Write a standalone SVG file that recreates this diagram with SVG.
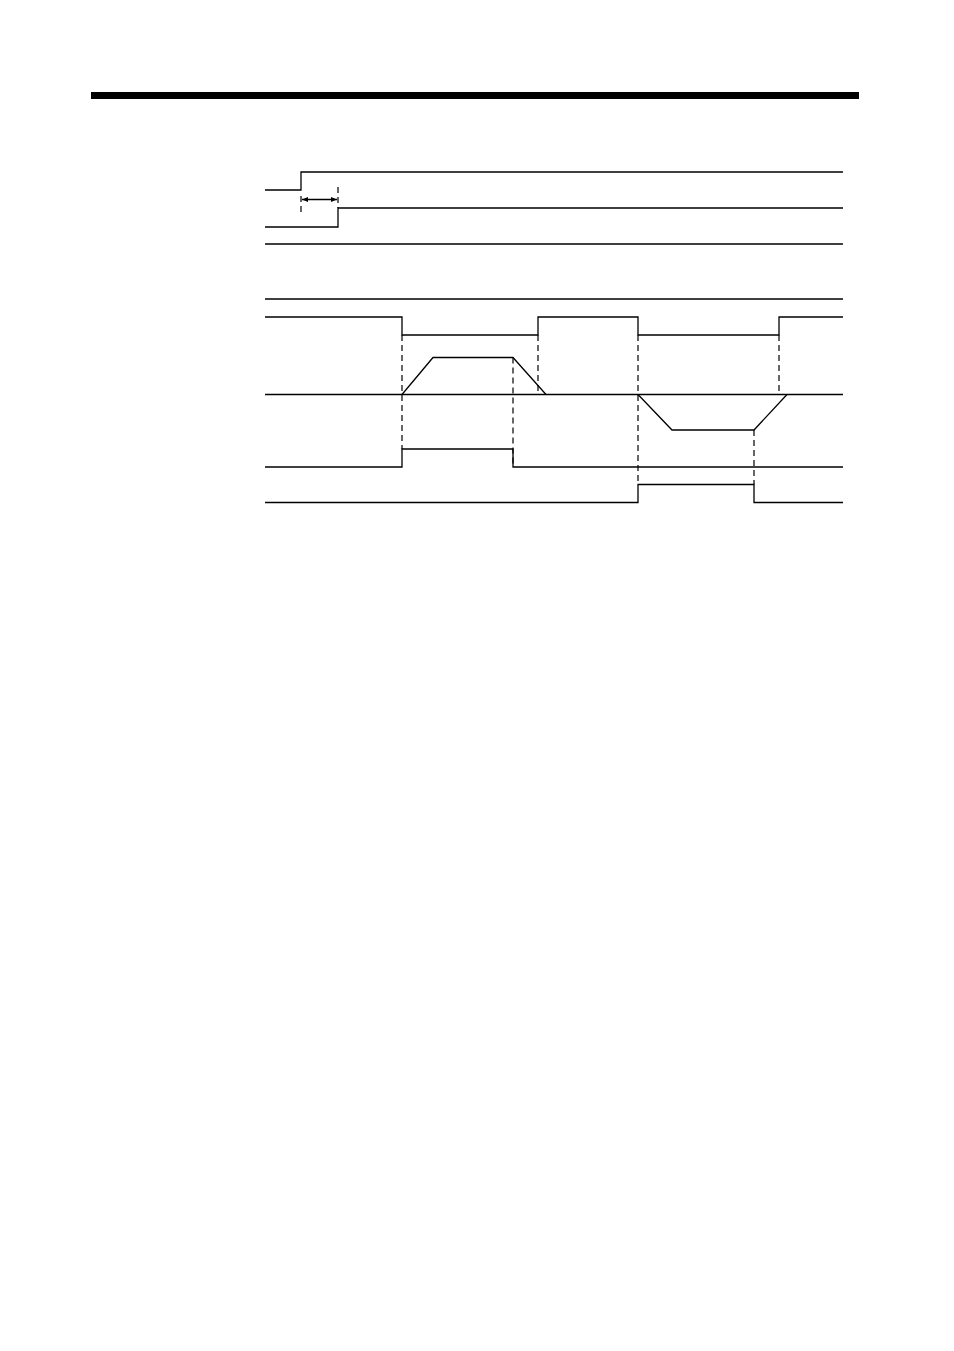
<svg xmlns="http://www.w3.org/2000/svg" width="954" height="1351" viewBox="0 0 954 1351">
<style>
.sig{fill:none;stroke:#000;stroke-width:1.3}
.dash{fill:none;stroke:#000;stroke-width:1.2;stroke-dasharray:6 4}
</style>
<defs>
<marker id="ah" viewBox="0 0 10 10" refX="10" refY="5" markerWidth="6" markerHeight="5" orient="auto-start-reverse" markerUnits="userSpaceOnUse" preserveAspectRatio="none">
<path d="M0,0 L10,5 L0,10 z" fill="#000"/>
</marker>
</defs>
<rect id="header-bar" x="91" y="92" width="768" height="7" fill="#000"/>
<g id="signals">
<g id="sig1"><polyline class="sig" points="265,190 301,190 301,172 843,172"/></g>
<g id="sig2"><polyline class="sig" points="265,227 338,227 338,208 843,208"/></g>
<g id="line3"><line class="sig" x1="265" y1="244" x2="843" y2="244"/></g>
<g id="line4"><line class="sig" x1="265" y1="299" x2="843" y2="299"/></g>
<g id="sig5"><polyline class="sig" points="265,317 402,317 402,335 538,335 538,317 638,317 638,335 779,335 779,317 843,317"/></g>
<g id="sig6"><line class="sig" x1="265" y1="394.5" x2="843" y2="394.5"/>
<polyline class="sig" points="402,394.5 433,357.5 513,357.5 546,394.5"/>
<polyline class="sig" points="638,394.5 672,430 754,430 787,394.5"/></g>
<g id="sig7"><polyline class="sig" points="265,467 402,467 402,449 513,449 513,467 843,467"/></g>
<g id="sig8"><polyline class="sig" points="265,502.5 638,502.5 638,484.5 754,484.5 754,502.5 843,502.5"/></g>
</g>
<g id="connectors">
<line class="dash" x1="301" y1="196" x2="301" y2="212"/>
<line class="dash" x1="338" y1="187" x2="338" y2="208"/>
<line class="sig" x1="302" y1="199.5" x2="337" y2="199.5" marker-start="url(#ah)" marker-end="url(#ah)"/>
<line class="dash" x1="402" y1="335" x2="402" y2="449"/>
<line class="dash" x1="513" y1="357.5" x2="513" y2="467"/>
<line class="dash" x1="538" y1="335" x2="538" y2="394.5"/>
<line class="dash" x1="638" y1="335" x2="638" y2="484.5"/>
<line class="dash" x1="779" y1="335" x2="779" y2="394.5"/>
<line class="dash" x1="754" y1="430" x2="754" y2="484.5"/>
</g>
</svg>
